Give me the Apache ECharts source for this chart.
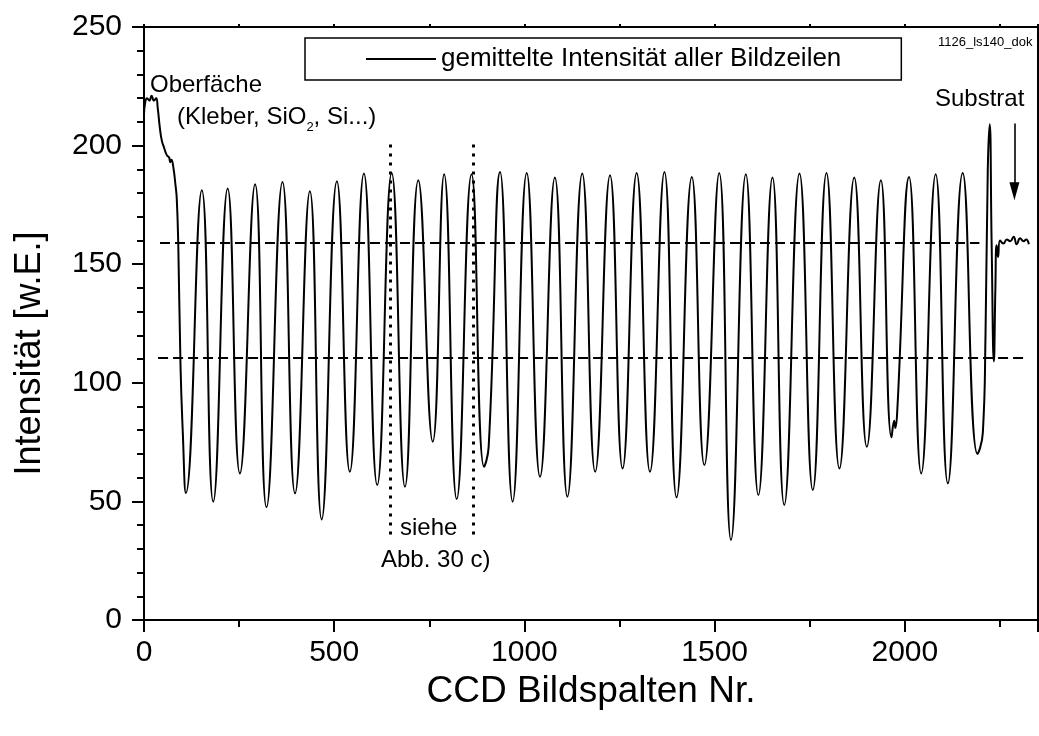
<!DOCTYPE html>
<html>
<head>
<meta charset="utf-8">
<script src="https://cdn.jsdelivr.net/npm/echarts@6/dist/echarts.min.js"></script>
<style>html,body{margin:0;padding:0;background:#fff}#c{width:1039px;height:736px}</style>
</head>
<body>
<div id="c"></div>
<script>
const FONT = '"Liberation Sans", Arial, Helvetica, sans-serif';
const seriesName = 'gemittelte Intensität aller Bildzeilen';
const xAxisTitle = 'CCD Bildspalten Nr.';
const yAxisTitle = 'Intensität [w.E.]';

// CCD column numbers (x) and averaged intensity (y)
const columnNr = [
  0, 3, 8, 14, 20, 26, 32, 36, 42, 47, 53, 60, 66, 69, 72, 77, 83, 86, 90, 96, 102, 110,
  152, 182, 220, 252, 292, 322, 364, 397, 436, 467, 507, 541, 578, 613, 651, 686, 721, 759, 789, 822,
  861, 894, 906, 936, 969, 1006, 1041, 1080, 1113, 1152, 1186, 1225, 1258, 1295, 1330, 1368, 1400,
  1440, 1473, 1512, 1543, 1582, 1615, 1652, 1683, 1723, 1758, 1794, 1828, 1867, 1900, 1937, 1965,
  1972, 1975, 1980, 2011, 2043, 2081, 2113, 2152, 2191, 2205, 2212, 2218, 2223, 2228, 2234,
  2238, 2241, 2245, 2250, 2259, 2268, 2277, 2286, 2294, 2303, 2312, 2319, 2326
];
const intensity = [
  213, 218, 220, 219, 221, 219, 220, 216, 207, 202, 199, 196, 195, 193, 194, 191, 183, 178, 159, 107, 79, 53.5,
  181.2, 49.9, 181.9, 61.8, 183.7, 47.5, 184.7, 53.4, 180.8, 42.4, 185, 62.5, 188.2, 56.9, 188.5, 56.2, 185.4, 75.2, 187.9, 51,
  187.9, 64.6, 73, 188.9, 49.9, 188.5, 60.4, 186.5, 52, 188.2, 62.5, 187.5, 63.9, 188.5, 62.5, 188.9, 51.7,
  186.8, 65.3, 188.5, 33.7, 187.9, 52.7, 186.5, 48.5, 188.2, 54.8, 188.5, 63.9, 186.5, 73, 185.4, 77,
  84, 81, 88, 186.8, 61.8, 187.9, 57.6, 188.5, 70, 79, 120, 190, 209, 160, 109,
  140, 158, 153, 160, 158.7, 160.4, 159.7, 161.6, 158.4, 160.9, 159.7, 160.4, 158.4
];

// axis ranges / ticks
const xRange = [0, 2350];
const xMajorStep = 500;
const yRange = [0, 250];
const yMajorStep = 50;

// dashed horizontal guide levels: value, start column, end column
const levelValues = [159, 110.5];
const levelStarts = [42, 37];
const levelEnds = [2196, 2311];

// dotted vertical markers ("siehe Abb. 30 c)")
const markerColumns = [648, 865];
const markerRange = [36, 202];

// arrow pointing at the substrate
const arrowColumn = 2288;
const arrowRange = [209.3, 180.8];

const chart = echarts.init(document.getElementById('c'), null, {renderer: 'canvas'});

const lineData = columnNr.map((x, i) => [x, intensity[i]]);

const markLines = [];
levelValues.forEach((v, i) => {
  markLines.push([
    {coord: [levelStarts[i], v], symbol: 'none', lineStyle: {type: [10, 5], width: 1.8, color: '#000'}},
    {coord: [levelEnds[i], v], symbol: 'none'}
  ]);
});
markerColumns.forEach(c => {
  markLines.push([
    {coord: [c, markerRange[0]], symbol: 'none', lineStyle: {type: [3, 6], width: 3, color: '#000', cap: 'butt'}},
    {coord: [c, markerRange[1]], symbol: 'none'}
  ]);
});
markLines.push([
  {coord: [arrowColumn, arrowRange[0]], symbol: 'none', lineStyle: {type: 'solid', width: 1.6, color: '#000'}},
  {coord: [arrowColumn, arrowRange[1]], symbol: 'triangle', symbolSize: [10, 18]}
]);

const axisLineStyle = {show: true, onZero: false, lineStyle: {color: '#000', width: 2}};

const option = {
  animation: false,
  backgroundColor: '#fff',
  textStyle: {fontFamily: FONT},
  grid: {left: 144, right: 1, top: 27, bottom: 116, containLabel: false, outerBoundsMode: 'none'},
  legend: {
    data: [{name: seriesName, icon: 'rect'}],
    left: 305, top: 38,
    padding: [7, 60, 7, 61],
    itemWidth: 70, itemHeight: 2,
    borderColor: '#000', borderWidth: 1.5, borderRadius: 0,
    textStyle: {fontSize: 26, lineHeight: 28, color: '#000', fontFamily: FONT},
    itemStyle: {color: '#000', borderWidth: 0},
    selectedMode: false
  },
  xAxis: [{
    type: 'value', position: 'bottom',
    min: xRange[0], max: xRange[1], interval: xMajorStep,
    name: xAxisTitle, nameLocation: 'middle', nameGap: 52,
    nameTextStyle: {fontSize: 37, color: '#000', fontFamily: FONT},
    axisLine: axisLineStyle,
    axisTick: {show: true, inside: false, length: 12, lineStyle: {color: '#000', width: 2}},
    minorTick: {show: true, splitNumber: 2, length: 7, lineStyle: {color: '#000', width: 2}},
    axisLabel: {fontSize: 30, color: '#000', margin: 18, fontFamily: FONT, showMaxLabel: false,
      formatter: v => (v % xMajorStep === 0 ? String(v) : '')},
    splitLine: {show: false}, minorSplitLine: {show: false}
  }, {
    type: 'value', position: 'top',
    min: xRange[0], max: xRange[1], interval: xMajorStep,
    axisLine: axisLineStyle,
    axisTick: {show: true, inside: false, length: 3, lineStyle: {color: '#000', width: 2}},
    minorTick: {show: true, splitNumber: 2, length: 3, lineStyle: {color: '#000', width: 2}},
    axisLabel: {show: false},
    splitLine: {show: false}
  }],
  yAxis: [{
    type: 'value', position: 'left',
    min: yRange[0], max: yRange[1], interval: yMajorStep,
    name: yAxisTitle, nameLocation: 'middle', nameGap: 96,
    nameTextStyle: {fontSize: 36, color: '#000', fontFamily: FONT, padding: [0, 60, 0, 0]},
    axisLine: axisLineStyle,
    axisTick: {show: true, inside: false, length: 12, lineStyle: {color: '#000', width: 2}},
    minorTick: {show: true, splitNumber: 5, length: 7, lineStyle: {color: '#000', width: 2}},
    axisLabel: {fontSize: 30, color: '#000', margin: 22, fontFamily: FONT},
    splitLine: {show: false}, minorSplitLine: {show: false}
  }, {
    type: 'value', position: 'right',
    min: yRange[0], max: yRange[1], interval: yMajorStep,
    axisLine: axisLineStyle,
    axisTick: {show: true, inside: false, length: 3, lineStyle: {color: '#000', width: 2}},
    minorTick: {show: true, splitNumber: 5, length: 3, lineStyle: {color: '#000', width: 2}},
    axisLabel: {show: false},
    splitLine: {show: false}
  }],
  series: [{
    name: seriesName,
    type: 'line',
    xAxisIndex: 0, yAxisIndex: 0,
    data: lineData,
    showSymbol: false, symbol: 'none',
    smooth: 0.5,
    lineStyle: {color: '#000', width: 2},
    itemStyle: {color: '#000'},
    emphasis: {disabled: true},
    silent: true,
    markLine: {
      silent: true,
      symbol: ['none', 'none'],
      label: {show: false},
      emphasis: {disabled: true},
      lineStyle: {color: '#000'},
      itemStyle: {color: '#000'},
      data: markLines
    }
  }],
  graphic: [
    {type: 'text', x: 150, y: 85, silent: true,
      style: {text: 'Oberfäche', fill: '#000', fontSize: 24, fontFamily: FONT, textAlign: 'left', textVerticalAlign: 'middle'}},
    {type: 'text', x: 177, y: 117, silent: true,
      style: {text: '(Kleber, SiO{s|2}, Si...)', fill: '#000', fontSize: 24, fontFamily: FONT, lineHeight: 34,
        textAlign: 'left', textVerticalAlign: 'middle',
        rich: {s: {fontSize: 13, fontFamily: FONT, lineHeight: 10, verticalAlign: 'bottom', fill: '#000'}}}},
    {type: 'text', x: 935, y: 99, silent: true,
      style: {text: 'Substrat', fill: '#000', fontSize: 24, fontFamily: FONT, textAlign: 'left', textVerticalAlign: 'middle'}},
    {type: 'text', x: 938, y: 42, silent: true,
      style: {text: '1126_ls140_dok', fill: '#000', fontSize: 13, fontFamily: FONT, textAlign: 'left', textVerticalAlign: 'middle'}},
    {type: 'text', x: 400, y: 528, silent: true,
      style: {text: 'siehe', fill: '#000', fontSize: 24, fontFamily: FONT, textAlign: 'left', textVerticalAlign: 'middle'}},
    {type: 'text', x: 381, y: 560, silent: true,
      style: {text: 'Abb. 30 c)', fill: '#000', fontSize: 24, fontFamily: FONT, textAlign: 'left', textVerticalAlign: 'middle'}}
  ]
};
chart.setOption(option);
</script>
</body>
</html>
